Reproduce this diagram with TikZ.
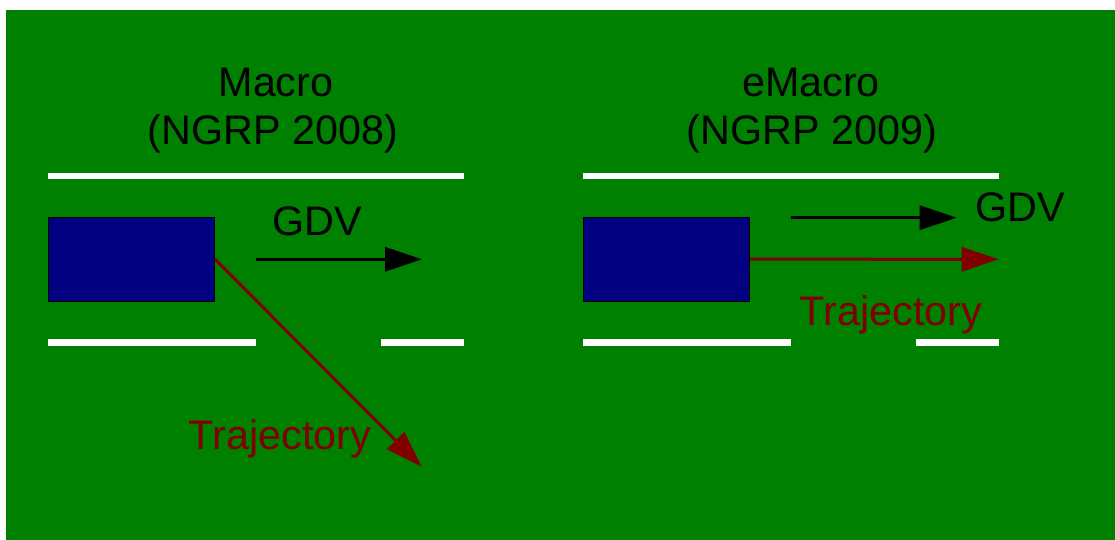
\documentclass[tikz,border=0pt]{standalone}
\usepackage{fontspec}
\setmainfont{Liberation Sans}
\usetikzlibrary{arrows.meta}
\definecolor{bggreen}{RGB}{0,128,0}
\definecolor{carblue}{RGB}{0,0,128}
\definecolor{trajred}{RGB}{128,0,0}
\begin{document}
\begin{tikzpicture}[x=1pt,y=-1pt,
  car/.style={draw=black,line width=0.8pt,fill=carblue,minimum width=166.7pt,minimum height=83.7pt,inner sep=0pt},
  lane/.style={draw=white,line width=6.5pt},
  gdvarrow/.style={draw=black,line width=3.2pt,-{Triangle[length=37pt,width=24pt]}},
  trajarrow/.style={draw=trajred,line width=3pt,-{Triangle[length=37pt,width=24pt]}},
  lbl/.style={font=\fontsize{41.3}{48}\selectfont,inner sep=0pt,anchor=base},
  ttl/.style={font=\fontsize{41.3}{48}\selectfont,inner sep=0pt,align=center}
]
\useasboundingbox (0,0) rectangle (1115,540);
\fill[white] (0,0) rectangle (1115,540);
\fill[bggreen] (6,10) rectangle (1115,540);

% left panel
\node[ttl,anchor=base] (tl1) at (276,96.7) {Macro};
\node[lbl] (tl2) at (273,145) {(NGRP 2008)};
\draw[lane] (48,176) -- (464,176);
\draw[lane] (48,342.5) -- (256,342.5);
\draw[lane] (381,342.5) -- (464,342.5);
\node[car] (carL) at (131.3,259.2) {};
\coordinate (gL1) at (256,259.3);
\coordinate (gL2) at (422,259.3);
\draw[gdvarrow] (gL1) -- (gL2);
\node[lbl] (gdvL) at (317.5,235) {GDV};
\coordinate (tL) at (421.7,466.7);
\draw[trajarrow] (carL.east) -- (tL);
\node[lbl,text=trajred] (trajL) at (280,449.3) {Trajectory};

% right panel
\node[lbl] (tr1) at (811,96.7) {eMacro};
\node[lbl] (tr2) at (812,145) {(NGRP 2009)};
\draw[lane] (583,176) -- (998.7,176);
\draw[lane] (583,342.5) -- (790.7,342.5);
\draw[lane] (915.7,342.5) -- (998.7,342.5);
\node[car] (carR) at (666.3,259.2) {};
\coordinate (gR1) at (791,217.7);
\coordinate (gR2) at (956.7,217.7);
\draw[gdvarrow] (gR1) -- (gR2);
\node[lbl,anchor=base west] (gdvR) at (975,221.7) {GDV};
\coordinate (tR) at (998.7,259.3);
\draw[trajarrow] (carR.east) -- (tR);
\node[lbl,text=trajred] (trajR) at (891,325) {Trajectory};
\end{tikzpicture}
\end{document}
